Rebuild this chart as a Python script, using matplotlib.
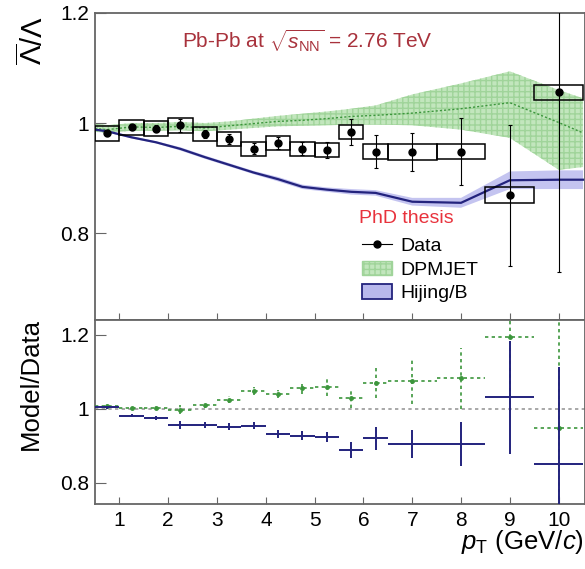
import numpy as np
import matplotlib.pyplot as plt
from matplotlib.patches import Rectangle, Patch
from matplotlib.lines import Line2D

plt.rcParams['font.family'] = ['Liberation Sans', 'DejaVu Sans']
plt.rcParams['mathtext.fontset'] = 'custom'
plt.rcParams['mathtext.rm'] = 'Liberation Sans'
plt.rcParams['mathtext.it'] = 'Liberation Sans:italic'

# pT bins
bin_lo = [0.5, 1.0, 1.5, 2.0, 2.5, 3.0, 3.5, 4.0, 4.5, 5.0, 5.5, 6.0, 6.5, 7.5, 8.5, 9.5]
bin_hi = [1.0, 1.5, 2.0, 2.5, 3.0, 3.5, 4.0, 4.5, 5.0, 5.5, 6.0, 6.5, 7.5, 8.5, 9.5, 10.5]
pt     = [0.75, 1.25, 1.75, 2.25, 2.75, 3.25, 3.75, 4.25, 4.75, 5.25, 5.75, 6.25, 7.0, 8.0, 9.0, 10.0]

# anti-Lambda / Lambda data
data = [0.981, 0.992, 0.990, 0.996, 0.980, 0.971, 0.953, 0.964, 0.953, 0.951,
        0.984, 0.948, 0.947, 0.948, 0.869, 1.056]
stat = [0.004, 0.005, 0.006, 0.012, 0.008, 0.009, 0.010, 0.011, 0.012, 0.014,
        0.024, 0.030, 0.035, 0.061, 0.128, 0.326]
syst = [0.013, 0.014, 0.014, 0.014, 0.013, 0.013, 0.013, 0.013, 0.013, 0.013,
        0.013, 0.013, 0.014, 0.014, 0.014, 0.014]

# model curves
model_pt = [0.5, 0.75, 1.25, 1.75, 2.25, 2.75, 3.25, 3.75, 4.25, 4.75, 5.25, 5.75,
            6.25, 7.0, 8.0, 9.0, 10.0, 10.5]
dpm_mid = [0.990, 0.988, 0.993, 0.992, 0.994, 0.991, 0.995, 0.999, 1.003, 1.005,
           1.008, 1.012, 1.014, 1.018, 1.026, 1.037, 1.001, 0.982]
dpm_lo  = [0.984, 0.982, 0.986, 0.986, 0.987, 0.985, 0.988, 0.991, 0.994, 0.995,
           0.996, 0.997, 0.997, 0.996, 0.988, 0.973, 0.915, 0.920]
dpm_hi  = [0.999, 0.996, 1.000, 1.000, 1.002, 1.000, 1.003, 1.008, 1.013, 1.017,
           1.021, 1.026, 1.032, 1.052, 1.072, 1.094, 1.060, 1.045]
hij_mid = [0.988, 0.985, 0.974, 0.965, 0.953, 0.938, 0.924, 0.910, 0.898, 0.884,
           0.879, 0.875, 0.873, 0.857, 0.855, 0.896, 0.897, 0.897]
hij_err = [0.002, 0.002, 0.002, 0.002, 0.003, 0.003, 0.003, 0.003, 0.004, 0.004,
           0.004, 0.005, 0.005, 0.007, 0.009, 0.016, 0.017, 0.017]

# model / data
dpm_ratio = [1.007, 1.001, 1.002, 0.998, 1.011, 1.025, 1.048, 1.040, 1.055, 1.060,
             1.028, 1.070, 1.075, 1.082, 1.193, 0.948]
dpm_rerr  = [0.005, 0.005, 0.006, 0.012, 0.008, 0.010, 0.011, 0.012, 0.014, 0.025,
             0.026, 0.040, 0.062, 0.082, 0.200, 0.300]
hij_ratio = [1.004, 0.982, 0.975, 0.957, 0.957, 0.952, 0.955, 0.932, 0.928, 0.924,
             0.889, 0.921, 0.905, 0.905, 1.031, 0.851]
hij_rerr  = [0.005, 0.005, 0.006, 0.011, 0.008, 0.009, 0.010, 0.011, 0.012, 0.014,
             0.022, 0.031, 0.037, 0.060, 0.152, 0.263]

GREEN = "#3c963c"
NAVY = "#23237d"
FRAME = "#666666"

fig = plt.figure(figsize=(5.85, 5.69), dpi=100)
ax = fig.add_axes([95/585, 1 - 320/569, 1 - 95/585, (320 - 13)/569])
ax2 = fig.add_axes([95/585, 1 - 504/569, 1 - 95/585, (504 - 320)/569], sharex=ax)

# top panel
ax.fill_between(model_pt, dpm_lo, dpm_hi, facecolor="#c2e6bd", edgecolor="#a0d49a",
                hatch="+++", lw=0, zorder=1)
ax.plot(model_pt, dpm_mid, color=GREEN, ls=(0, (1.5, 1.5)), lw=1.0, zorder=2)
hl = np.array(hij_mid)
he = np.array(hij_err)
ax.fill_between(model_pt, hl - he, hl + he, facecolor="#9d9de6", alpha=0.6, lw=0, zorder=2)
ax.plot(model_pt, hij_mid, color=NAVY, lw=1.6, zorder=3)

for lo, hi, y, s in zip(bin_lo, bin_hi, data, syst):
    ax.add_patch(Rectangle((lo, y - s), hi - lo, 2 * s, fill=False,
                           edgecolor="black", lw=1.1, zorder=4))
ax.errorbar(pt, data, yerr=stat, fmt="o", color="black", ms=5, elinewidth=0.8,
            capsize=1.5, capthick=0.8, zorder=5)

ax.set_xlim(0.5, 10.54)
ax.set_ylim(0.642, 1.2)
ax.set_yticks([0.8, 1.0, 1.2])
ax.set_yticklabels(["0.8", "1", "1.2"])
ax.set_xticks(range(1, 11))
ax.tick_params(axis="x", direction="in", length=5, color=FRAME, labelbottom=False)
ax.tick_params(axis="y", direction="in", length=8, color=FRAME, labelsize=15, pad=4)

ax.text(4.85, 1.15, r"Pb-Pb at $\sqrt{s_{\rm NN}}$ = 2.76 TeV", color="#a8323c",
        fontsize=15, ha="center", va="center")
ax.text(5.9, 0.826, "PhD thesis", color="#e8323c", fontsize=14, ha="left", va="center")

handles = [Line2D([], [], color="black", marker="o", ms=5, lw=0.8),
           Patch(facecolor="#c2e6bd", edgecolor="#a0d49a", hatch="+++", lw=1),
           Patch(facecolor="#b8b8ec", edgecolor=NAVY, lw=1.3)]
ax.legend(handles, ["Data", "DPMJET", "Hijing/B"], loc="upper left",
          bbox_to_anchor=(0.545, 0.27), frameon=False, fontsize=14,
          borderpad=0, borderaxespad=0, handlelength=1.55, handleheight=0.77,
          handletextpad=0.4, labelspacing=0.28)

# bottom panel
ax2.axhline(1.0, color="#999999", ls=(0, (2, 2)), lw=1.2, zorder=1)
xl = np.array(pt) - np.array(bin_lo)
xh = np.array(bin_hi) - np.array(pt)
eb = ax2.errorbar(pt, dpm_ratio, xerr=[xl, xh], yerr=dpm_rerr, fmt="o", ms=2.5,
                  color=GREEN, elinewidth=1.2, capsize=0, zorder=3)
for lc in eb[2]:
    lc.set_linestyle((0, (2, 2)))
ax2.errorbar(pt, hij_ratio, xerr=[xl, xh], yerr=hij_rerr, fmt="none",
             ecolor=NAVY, elinewidth=1.4, capsize=0, zorder=4)

ax2.set_ylim(0.743, 1.24)
ax2.set_yticks([0.8, 1.0, 1.2])
ax2.set_yticklabels(["0.8", "1", "1.2"])
ax2.tick_params(axis="x", direction="in", length=5, color=FRAME, labelsize=15, pad=5)
ax2.tick_params(axis="y", direction="in", length=8, color=FRAME, labelsize=15, pad=4)

for a in (ax, ax2):
    for sp in a.spines.values():
        sp.set_color(FRAME)
        sp.set_linewidth(1.3)

fig.text(33/585, 1 - 41/569, r"$\overline{\Lambda}/\Lambda$", rotation=90,
         fontsize=21, ha="center", va="center")
fig.text(31/585, 1 - 384/569, "Model/Data", rotation=90, fontsize=18.5,
         ha="center", va="center")
fig.text(584/585, 1 - 542/569, r"$p_{\rm T}$ (GeV/$c$)", fontsize=18.5,
         ha="right", va="center")

fig.savefig("out.png", dpi=100)
